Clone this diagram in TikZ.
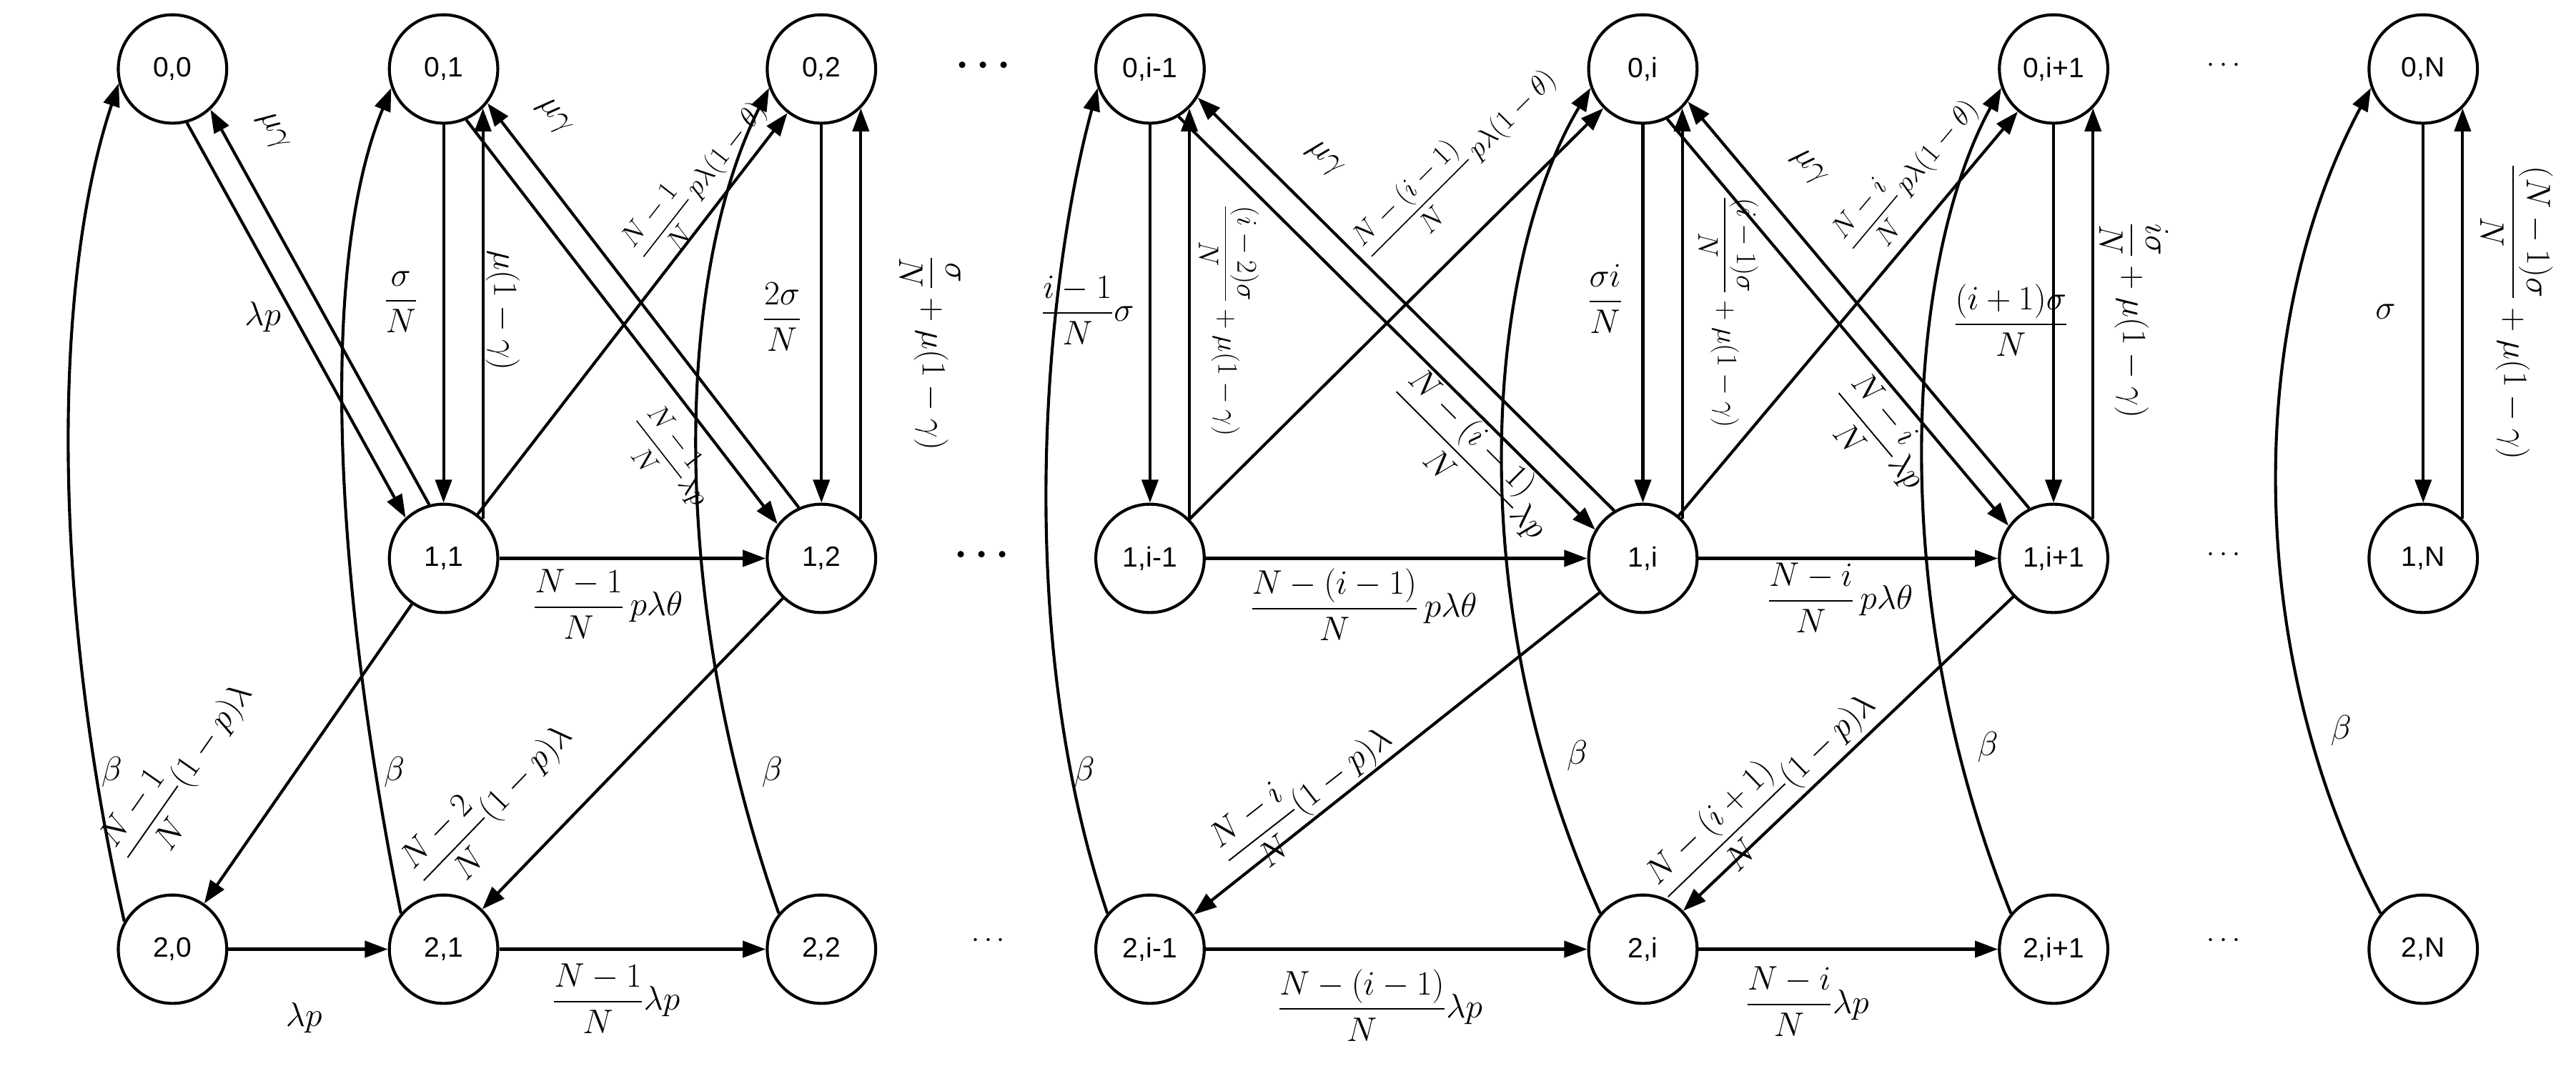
\documentclass[tikz,border=0pt]{standalone}
\usepackage{amsmath}
\usepackage{fontspec}
\newfontfamily\nodefont{Liberation Sans}
\usetikzlibrary{arrows.meta}
\newcommand\fr[2]{\dfrac{#1}{#2}}
\tikzset{
 st/.style={circle,draw,line width=1.8pt,minimum size=66pt,inner sep=0pt,font=\nodefont\fontsize{17}{19}\selectfont},
 edge/.style={line width=1.8pt,-{Triangle[length=14pt,width=10pt]}},
 lab/.style={inner sep=1pt,font=\fontsize{22}{26}\selectfont},
 slab/.style={inner sep=1pt,font=\fontsize{17}{20}\selectfont},
 dots/.style={inner sep=0pt,font=\fontsize{24}{26}\selectfont}
}
\begin{document}
\begin{tikzpicture}[x=1pt,y=-1pt]
\useasboundingbox (0,0) rectangle (1568,649);
% nodes
\foreach \n/\x/\lab in {0/105/0,1/270/1,2/500/2,i1/700/i-1,i/1000/i,ip/1250/i+1,N/1475/N}{
  \node[st] (t\n) at (\x,42) {0,\lab};
  \node[st] (b\n) at (\x,578) {2,\lab};
}
\foreach \n/\x/\lab in {1/270/1,2/500/2,i1/700/i-1,i/1000/i,ip/1250/i+1,N/1475/N}{
  \node[st] (m\n) at (\x,340) {1,\lab};
}
\node[dots] (d1) at (601,40) {$\boldsymbol{\cdots}$};
\node[dots] (d2) at (600,338) {$\boldsymbol{\cdots}$};
\node[dots,font=\fontsize{18}{20}\selectfont] (d3) at (603,573) {$\cdots$};
\node[dots,font=\fontsize{18}{20}\selectfont] (d4) at (1355,40) {$\cdots$};
\node[dots,font=\fontsize{18}{20}\selectfont] (d5) at (1355,338) {$\cdots$};
\node[dots,font=\fontsize{18}{20}\selectfont] (d6) at (1355,573) {$\cdots$};
% verticals
\foreach \n in {1,2,i1,i,ip,N}{
  \draw[edge] (t\n.south) -- (m\n.north);
  \draw[edge] (m\n.45) -- (t\n.-45);
}
% diagonal pairs
\draw[edge] (t0.-75) -- (m1.133);
\draw[edge] (m1.105) -- (t0.-47);
\draw[edge] (t1.-66) -- (m2.142);
\draw[edge] (m2.114) -- (t1.-38);
\draw[edge] (ti1.-59) -- (mi.149);
\draw[edge] (mi.121) -- (ti1.-31);
\draw[edge] (ti.-64) -- (mip.144);
\draw[edge] (mip.116) -- (ti.-36);
% up-right singles
\draw[edge] (m1) -- (t2);
\draw[edge] (mi1) -- (ti);
\draw[edge] (mi) -- (tip);
% mid horizontals
\draw[edge] (m1) -- (m2);
\draw[edge] (mi1) -- (mi);
\draw[edge] (mi) -- (mip);
% mid to bottom
\draw[edge] (m1) -- (b0);
\draw[edge] (m2) -- (b1);
\draw[edge] (mi) -- (bi1);
\draw[edge] (mip) -- (bi);
% bottom horizontals
\draw[edge] (b0) -- (b1);
\draw[edge] (b1) -- (b2);
\draw[edge] (bi1) -- (bi);
\draw[edge] (bi) -- (bip);
% beta curves
\draw[edge] (b0.150) .. controls +(-45,-200) and +(-40,120) .. (t0.195);
\draw[edge] (b1.140) .. controls +(-40,-200) and +(-45,110) .. (t1.200);
\draw[edge] (b2.140) .. controls +(-70,-200) and +(-55,110) .. (t2.200);
\draw[edge] (bi1.140) .. controls +(-60,-180) and +(-30,110) .. (ti1.200);
\draw[edge] (bi.140) .. controls +(-90,-200) and +(-60,100) .. (ti.200);
\draw[edge] (bip.140) .. controls +(-80,-200) and +(-55,100) .. (tip.200);
\draw[edge] (bN.140) .. controls +(-80,-150) and +(-80,150) .. (tN.200);
% beta labels
\foreach \x/\y [count=\k] in {68/470,240/470,470/470,660/470,960/460,1210/455,1425/445}
  \node[lab] (beta\k) at (\x,\y) {$\beta$};
% labels
\node[lab] (l1) at (160,193) {$\lambda p$};
\node[lab,rotate=-61] (l2) at (166,80) {$\mu\gamma$};
\node[lab] (l3) at (244,184) {$\fr{\sigma}{N}$};
\node[lab,rotate=-90] (l4) at (306,189) {$\mu(1-\gamma)$};
\node[lab,rotate=-52] (l5) at (337,71) {$\mu\gamma$};
\node[slab,rotate=52] (l6) at (426,110) {$\fr{N-1}{N}\,p\lambda(1-\theta)$};
\node[slab,rotate=-52] (l7) at (408,280) {$\fr{N-1}{N}\lambda p$};
\node[lab] (l8) at (476,193) {$\fr{2\sigma}{N}$};
\node[lab,rotate=-90] (l9) at (566,215) {$\fr{\sigma}{N}+\mu(1-\gamma)$};
\node[lab] (l10) at (370,368) {$\fr{N-1}{N}\,p\lambda\theta$};
\node[lab,rotate=55] (l11) at (112,470) {$\fr{N-1}{N}(1-p)\lambda$};
\node[lab,rotate=46] (l12) at (300,490) {$\fr{N-2}{N}(1-p)\lambda$};
\node[lab] (l13) at (185,620) {$\lambda p$};
\node[lab] (l14) at (375,608) {$\fr{N-1}{N}\lambda p$};
\node[lab] (l15) at (662,189) {$\fr{i-1}{N}\sigma$};
\node[slab,rotate=-90] (l16) at (748,195) {$\fr{(i-2)\sigma}{N}+\mu(1-\gamma)$};
\node[lab,rotate=-45] (l17) at (806,97) {$\mu\gamma$};
\node[slab,rotate=45] (l18) at (888,100) {$\fr{N-(i-1)}{N}\,p\lambda(1-\theta)$};
\node[lab,rotate=-45] (l19) at (895,280) {$\fr{N-(i-1)}{N}\lambda p$};
\node[lab] (l20) at (977,182) {$\fr{\sigma i}{N}$};
\node[slab,rotate=-90] (l21) at (1052,190) {$\fr{(i-1)\sigma}{N}+\mu(1-\gamma)$};
\node[lab,rotate=-50] (l22) at (1101,102) {$\mu\gamma$};
\node[slab,rotate=50] (l23) at (1163,107) {$\fr{N-i}{N}\,p\lambda(1-\theta)$};
\node[lab,rotate=-50] (l24) at (1144,266) {$\fr{N-i}{N}\lambda p$};
\node[lab] (l25) at (1224,195) {$\fr{(i+1)\sigma}{N}$};
\node[lab,rotate=-90] (l26) at (1299,195) {$\fr{i\sigma}{N}+\mu(1-\gamma)$};
\node[lab] (l27) at (1452,190) {$\sigma$};
\node[lab,rotate=-90] (l28) at (1532,190) {$\fr{(N-1)\sigma}{N}+\mu(1-\gamma)$};
\node[lab] (l29) at (830,368) {$\fr{N-(i-1)}{N}\,p\lambda\theta$};
\node[lab] (l30) at (1120,364) {$\fr{N-i}{N}\,p\lambda\theta$};
\node[lab,rotate=38] (l31) at (795,485) {$\fr{N-i}{N}(1-p)\lambda$};
\node[lab,rotate=44] (l32) at (1075,485) {$\fr{N-(i+1)}{N}(1-p)\lambda$};
\node[lab] (l33) at (840,612) {$\fr{N-(i-1)}{N}\lambda p$};
\node[lab] (l34) at (1100,610) {$\fr{N-i}{N}\lambda p$};
\end{tikzpicture}
\end{document}
